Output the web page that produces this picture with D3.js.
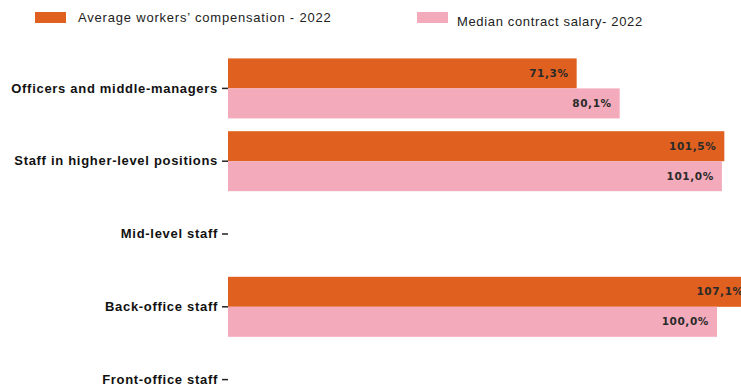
<!DOCTYPE html>
<html>
<head>
<meta charset="utf-8">
<script src="https://cdn.jsdelivr.net/npm/d3@7"></script>
<style>
  html, body { margin: 0; padding: 0; background: #fff; }
  svg { display: block; }
</style>
</head>
<body>
<svg id="chart" width="741" height="391"></svg>
<script>
// Job categories (top to bottom)
const categories = [
  "Officers and middle-managers",
  "Staff in higher-level positions",
  "Mid-level staff",
  "Back-office staff",
  "Front-office staff"
];
// Series names
const seriesNames = [
  "Average workers\u2019 compensation - 2022",
  "Median contract salary- 2022"
];
// Values in percent; null where no bar is shown
const avgCompensation = [71.3, 101.5, null, 107.1, null];
const medianSalary    = [80.1, 101.0, null, 100.0, null];
const seriesColors = ["#E0601F", "#F3AABB"];

const svg = d3.select("#chart");

const x = d3.scaleLinear().domain([0, 100]).range([228, 717]);

const y = d3.scaleBand()
  .domain(categories)
  .range([52, 416])
  .paddingInner(0.176)
  .paddingOuter(0.088);

const ySub = d3.scaleBand()
  .domain([0, 1])
  .range([0, y.bandwidth()]);

const rows = categories.map((c, i) => ({
  cat: c,
  vals: [avgCompensation[i], medianSalary[i]]
}));

const fmt = v => d3.format(".1f")(v).replace(".", ",") + "%";

// Bars with value labels inside their ends
const g = svg.append("g");
rows.forEach(r => {
  r.vals.forEach((v, s) => {
    if (v == null) return;
    const yy = y(r.cat) + ySub(s);
    g.append("rect")
      .attr("x", x(0))
      .attr("y", yy)
      .attr("width", x(v) - x(0))
      .attr("height", ySub.bandwidth())
      .attr("fill", seriesColors[s]);
    g.append("text")
      .attr("x", x(v) - 8)
      .attr("y", yy + ySub.bandwidth() / 2)
      .attr("dy", "0.35em")
      .attr("text-anchor", "end")
      .attr("font-family", "DejaVu Sans, sans-serif")
      .attr("font-weight", "bold")
      .attr("font-size", "10.5px")
      .attr("letter-spacing", "0.6px")
      .attr("fill", "#2a2a2a")
      .text(fmt(v));
  });
});

// Category axis (ticks only, no domain line)
const yAxis = svg.append("g")
  .attr("transform", `translate(${x(0)},0)`)
  .call(d3.axisLeft(y).tickSize(6).tickPadding(4));
yAxis.select(".domain").remove();
yAxis.selectAll(".tick line").attr("stroke", "#222").attr("stroke-width", 1.5);
yAxis.selectAll(".tick text")
  .attr("font-family", "Liberation Sans, Arial, sans-serif")
  .attr("font-weight", "bold")
  .attr("font-size", "13px")
  .attr("letter-spacing", "0.7px")
  .attr("fill", "#111");

// Legend
const legendItems = [
  { x: 35, y: 12, tx: 78, ty: 22, ls: 0.8 },
  { x: 417, y: 12, tx: 457, ty: 26, ls: 0.65 }
];
legendItems.forEach((p, i) => {
  svg.append("rect")
    .attr("x", p.x).attr("y", p.y)
    .attr("width", 31).attr("height", 11)
    .attr("fill", seriesColors[i]);
  svg.append("text")
    .attr("x", p.tx).attr("y", p.ty)
    .attr("font-family", "Liberation Sans, Arial, sans-serif")
    .attr("font-size", "13px")
    .attr("letter-spacing", `${p.ls}px`)
    .attr("fill", "#222")
    .text(seriesNames[i]);
});
</script>
</body>
</html>
